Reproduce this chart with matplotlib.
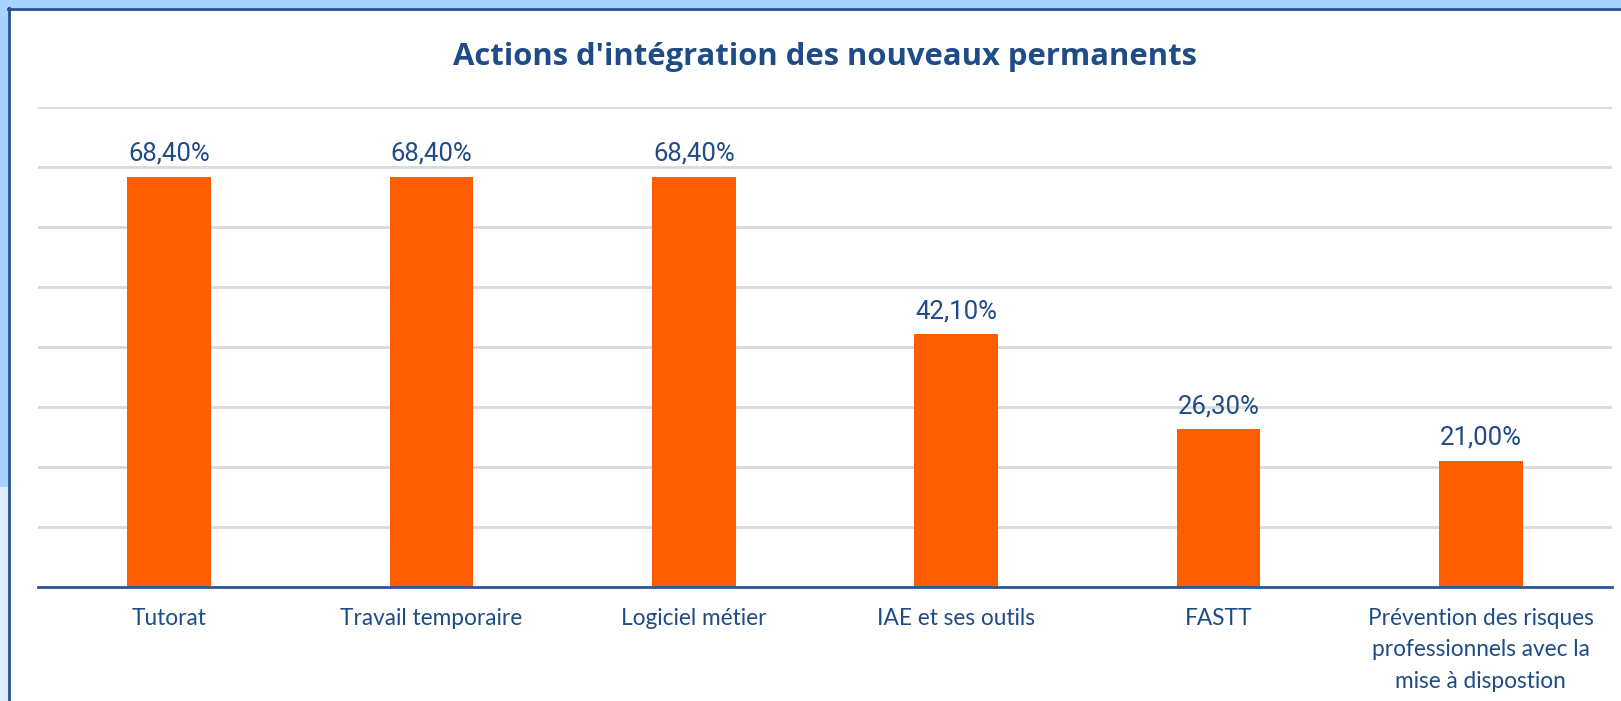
import matplotlib.pyplot as plt
from matplotlib.patches import Rectangle

categories = ["Tutorat", "Travail temporaire", "Logiciel métier", "IAE et ses outils", "FASTT",
              "Prévention des risques\nprofessionnels avec la\nmise à dispostion"]
values = [68.4, 68.4, 68.4, 42.1, 26.3, 21.0]
labels = ["68,40%", "68,40%", "68,40%", "42,10%", "26,30%", "21,00%"]

navy = "#1f4b87"
orange = "#ff5e00"

W, H = 1621, 701
fig = plt.figure(figsize=(16.21, 7.01), dpi=100)
fig.patch.set_facecolor("#a6d2fd")

# screenshot frame drawn in pixel units on a background axes
bg = fig.add_axes([0, 0, 1, 1], zorder=-10)
bg.set_xlim(0, W)
bg.set_ylim(H, 0)
bg.axis("off")
bg.add_patch(Rectangle((0, 487), 8, H - 487, facecolor="#deedfc", edgecolor="none"))
bg.add_patch(Rectangle((8, 8), W, H, facecolor="white", edgecolor="none"))
bg.plot([8.5, 8.5], [8, H], color="#27508f", lw=2)
bg.plot([8, W], [8.5, 8.5], color="#27508f", lw=2)

ax = fig.add_axes([38 / W, 114 / H, 1574 / W, 480 / H])
ax.set_facecolor("none")
x = range(len(categories))
ax.bar(x, values, width=0.32, color=orange, zorder=3)
ax.set_xlim(-0.5, len(categories) - 0.5)
ax.set_ylim(0, 80)
ax.set_yticks(range(0, 81, 10))
ax.yaxis.grid(True, color="#d9d9d9", lw=2)
ax.tick_params(axis="y", length=0, labelleft=False)
ax.tick_params(axis="x", length=0, pad=15)
ax.set_xticks(list(x))
ax.set_xticklabels(categories, fontsize=16.3, color=navy, family="Lato", linespacing=1.62,
                   va="top")
for s in ["left", "right", "top"]:
    ax.spines[s].set_visible(False)
ax.spines["bottom"].set_color("#2f5597")
ax.spines["bottom"].set_linewidth(2)
ax.spines["bottom"].set_zorder(4)

for xi, v, lab in zip(x, values, labels):
    ax.annotate(lab, (xi, v), xytext=(0, 8), textcoords="offset points", ha="center",
                va="bottom", fontsize=18.5, color=navy, family="Roboto")

fig.text(825 / W, 1 - 57 / H, "Actions d'intégration des nouveaux permanents", ha="center",
         va="center", fontsize=22.3, fontweight="bold", color=navy, family="Open Sans")

fig.savefig("out.png", dpi=100, facecolor=fig.get_facecolor())
